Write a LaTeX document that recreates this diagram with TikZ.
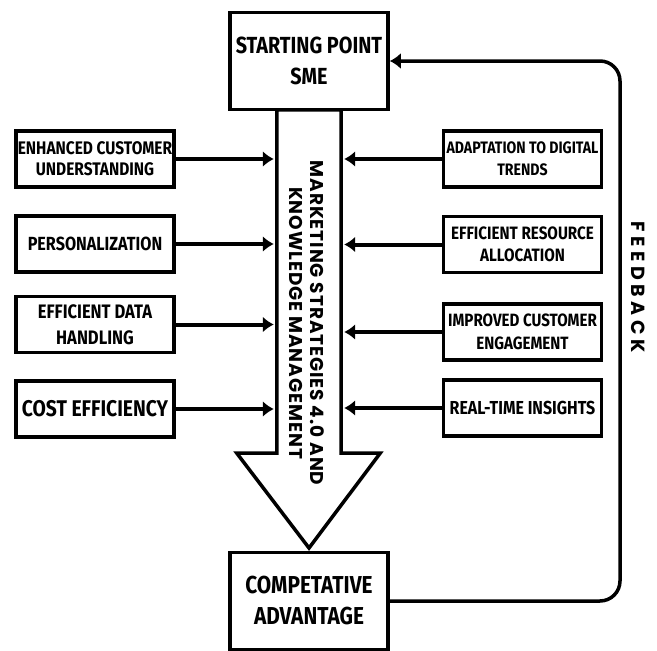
\documentclass[tikz,border=0pt]{standalone}
\usepackage{fontspec}
\setmainfont{Fira Sans}
\newfontfamily\boxfont[FakeStretch=0.85]{Fira Sans}
\newfontfamily\widefont[LetterSpace=5]{Poppins}
\newfontfamily\fbfont[LetterSpace=24]{Poppins}
\usetikzlibrary{positioning}
\usetikzlibrary{arrows.meta}

\tikzset{
  factor/.style={draw, line width=3.5pt, minimum width=158pt, minimum height=56pt,
    inner sep=2pt, align=center},
  endbox/.style={factor, minimum height=97pt},
  inarrow/.style={line width=4pt, -{Latex[length=11pt,width=16pt]}, shorten >=3pt},
}

\begin{document}
\begin{tikzpicture}[x=1pt,y=-1pt]
\useasboundingbox (0,0) rectangle (657,651);

%---------------------------------------
% Start and goal of the flow
%---------------------------------------
\node[endbox, font=\boxfont\bfseries\fontsize{23.3}{31}\selectfont] (start) at (309,61)
  {STARTING POINT\\SME};
\node[endbox, font=\boxfont\bfseries\fontsize{24.5}{31}\selectfont] (adv) at (309,601)
  {COMPETATIVE\\ADVANTAGE};

%---------------------------------------
% Big down arrow (shaft + head)
%---------------------------------------
\node[minimum width=64pt, minimum height=343pt, inner sep=0pt] (shaft) at (309,281.5) {};
\coordinate (tip) at (309,548);
\draw[line width=3.5pt, fill=white]
  (shaft.north west) -- (shaft.south west) -- ++(-40,0)
  -- (tip)
  -- ([xshift=39pt]shaft.south east) -- (shaft.south east)
  -- (shaft.north east) -- cycle;
\node[rotate=-90, align=center, font=\widefont\bfseries\fontsize{18.5}{20.5}\selectfont]
  (mktext) at (307,323) {MARKETING STRATEGIES 4.0 AND\\KNOWLEDGE MANAGEMENT};

%---------------------------------------
% Left column
%---------------------------------------
\node[factor, font=\boxfont\bfseries\fontsize{18.2}{21}\selectfont] (L1) at (95,159)
  {ENHANCED CUSTOMER\\UNDERSTANDING};
\node[factor, font=\boxfont\bfseries\fontsize{19}{24}\selectfont] (L2) at (95,244)
  {PERSONALIZATION};
\node[factor, font=\boxfont\bfseries\fontsize{19.5}{26}\selectfont] (L3) at (95,324.5)
  {EFFICIENT DATA\\HANDLING};
\node[factor, font=\boxfont\bfseries\fontsize{22.7}{26}\selectfont] (L4) at (95,409)
  {COST EFFICIENCY};

%---------------------------------------
% Right column
%---------------------------------------
\node[factor, font=\boxfont\bfseries\fontsize{16.6}{21.7}\selectfont] (R1) at (522.5,159)
  {ADAPTATION TO DIGITAL\\TRENDS};
\node[factor, font=\boxfont\bfseries\fontsize{17.9}{22}\selectfont] (R2) at (522.5,244.5)
  {EFFICIENT RESOURCE\\ALLOCATION};
\node[factor, font=\boxfont\bfseries\fontsize{17.8}{22.7}\selectfont] (R3) at (522.5,332)
  {IMPROVED CUSTOMER\\ENGAGEMENT};
\node[factor, font=\boxfont\bfseries\fontsize{18.8}{24}\selectfont] (R4) at (522.5,408)
  {REAL-TIME INSIGHTS};

% Arrows into the shaft
\foreach \b in {L1,L2,L3,L4}
  \draw[inarrow] (\b.east) -- (\b.east -| shaft.west);
\foreach \b in {R1,R2,R3,R4}
  \draw[inarrow] (\b.west) -- (\b.west -| shaft.east);

%---------------------------------------
% Feedback loop
%---------------------------------------
\coordinate (fbx) at (620,0);
\draw[line width=3.5pt, rounded corners=20pt, -{Latex[length=11pt,width=16pt]}]
  (adv.east) -- (adv.east -| fbx) -- (fbx |- start.east) -- (start.east);
\node[rotate=-90, font=\fbfont\bfseries\fontsize{19}{20}\selectfont] (fbtext) at (638,287)
  {FEEDBACK};

\end{tikzpicture}
\end{document}
